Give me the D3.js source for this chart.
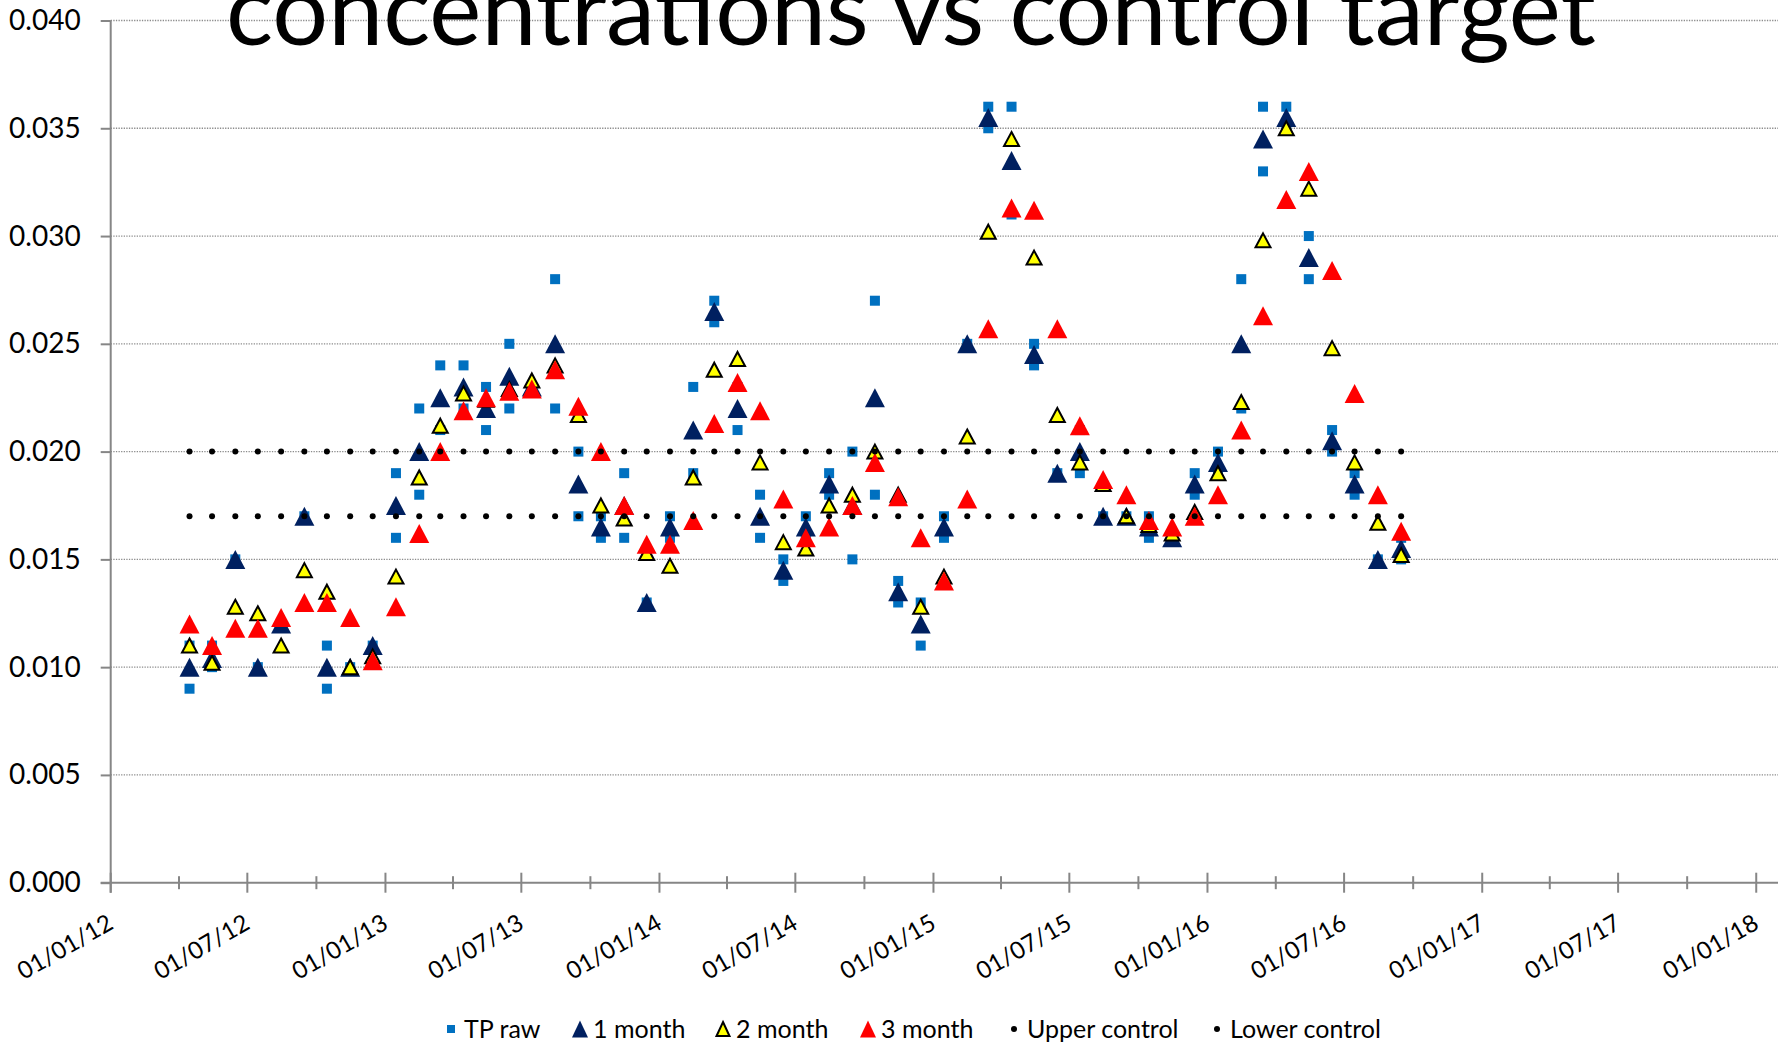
<!DOCTYPE html>
<html>
<head>
<meta charset="utf-8">
<script src="https://cdn.jsdelivr.net/npm/d3@7"></script>
<style>
  body { margin: 0; background: #fff; }
  svg text { font-family: Lato, "Noto Sans", sans-serif; fill: #000; }
</style>
</head>
<body>
<svg id="chart" width="1790" height="1044"></svg>
<script>
// sample dates (one per month)
const dates = [
  "2012-04-15","2012-05-15","2012-06-15","2012-07-15","2012-08-15","2012-09-15","2012-10-15","2012-11-15","2012-12-15",
  "2013-01-15","2013-02-15","2013-03-15","2013-04-15","2013-05-15","2013-06-15","2013-07-15","2013-08-15","2013-09-15","2013-10-15","2013-11-15","2013-12-15",
  "2014-01-15","2014-02-15","2014-03-15","2014-04-15","2014-05-15","2014-06-15","2014-07-15","2014-08-15","2014-09-15","2014-10-15","2014-11-15","2014-12-15",
  "2015-01-15","2015-02-15","2015-03-15","2015-04-15","2015-05-15","2015-06-15","2015-07-15","2015-08-15","2015-09-15","2015-10-15","2015-11-15","2015-12-15",
  "2016-01-15","2016-02-15","2016-03-15","2016-04-15","2016-05-15","2016-06-15","2016-07-15","2016-08-15","2016-09-15"
];

// raw TP samples for each month (some months have two)
const tpRaw = [
  [0.009, 0.011], [0.011, 0.010], [0.015], [0.010], [0.012], [0.017], [0.011, 0.009], [0.010], [0.011],
  [0.019, 0.016], [0.022, 0.018], [0.024, 0.021], [0.024, 0.022], [0.023, 0.021], [0.025, 0.022], [0.023], [0.028, 0.022], [0.020, 0.017], [0.017, 0.016], [0.019, 0.016], [0.013],
  [0.017, 0.016], [0.023, 0.019], [0.027, 0.026], [0.023, 0.021], [0.018, 0.016], [0.015, 0.014], [0.017, 0.016], [0.019, 0.018], [0.020, 0.015], [0.027, 0.018], [0.014, 0.013], [0.013, 0.011],
  [0.017, 0.016], [0.025], [0.036, 0.035], [0.036, 0.031], [0.025, 0.024], [0.019], [0.021, 0.019], [0.017], [0.017], [0.017, 0.016], [0.016], [0.019, 0.018],
  [0.020, 0.019], [0.028, 0.022], [0.036, 0.033], [0.036, 0.035], [0.030, 0.028], [0.021, 0.020], [0.019, 0.018], [0.015], [0.016, 0.015]
];

const oneMonth = [
  0.0100, 0.0104, 0.0150, 0.0100, 0.0120, 0.0170, 0.0100, 0.0100, 0.0110,
  0.0175, 0.0200, 0.0225, 0.0230, 0.0220, 0.0235, 0.0230, 0.0250, 0.0185, 0.0165, 0.0175, 0.0130,
  0.0165, 0.0210, 0.0265, 0.0220, 0.0170, 0.0145, 0.0165, 0.0185, 0.0175, 0.0225, 0.0135, 0.0120,
  0.0165, 0.0250, 0.0355, 0.0335, 0.0245, 0.0190, 0.0200, 0.0170, 0.0170, 0.0165, 0.0160, 0.0185,
  0.0195, 0.0250, 0.0345, 0.0355, 0.0290, 0.0205, 0.0185, 0.0150, 0.0155
];

const twoMonth = [
  0.0110, 0.0102, 0.0128, 0.0125, 0.0110, 0.0145, 0.0135, 0.0100, 0.0105,
  0.0142, 0.0188, 0.0212, 0.0227, 0.0224, 0.0229, 0.0233, 0.0240, 0.0217, 0.0175, 0.0169, 0.0153,
  0.0147, 0.0188, 0.0238, 0.0243, 0.0195, 0.0158, 0.0155, 0.0175, 0.0180, 0.0200, 0.0180, 0.0128,
  0.0142, 0.0207, 0.0302, 0.0345, 0.0290, 0.0217, 0.0195, 0.0185, 0.0170, 0.0166, 0.0162, 0.0172,
  0.0190, 0.0223, 0.0298, 0.0350, 0.0322, 0.0248, 0.0195, 0.0167, 0.0152
];

const threeMonth = [
  0.0120, 0.0110, 0.0118, 0.0118, 0.0123, 0.0130, 0.0130, 0.0123, 0.0103,
  0.0128, 0.0162, 0.0200, 0.0219, 0.0225, 0.0228, 0.0229, 0.0238, 0.0221, 0.0200, 0.0175, 0.0157,
  0.0157, 0.0168, 0.0213, 0.0232, 0.0219, 0.0178, 0.0160, 0.0165, 0.0175, 0.0195, 0.0179, 0.0160,
  0.0140, 0.0178, 0.0257, 0.0313, 0.0312, 0.0257, 0.0212, 0.0187, 0.0180, 0.0168, 0.0165, 0.0170,
  0.0180, 0.0210, 0.0263, 0.0317, 0.0330, 0.0284, 0.0227, 0.0180, 0.0163
];

const upperControl = [
  0.020, 0.020, 0.020, 0.020, 0.020, 0.020, 0.020, 0.020, 0.020,
  0.020, 0.020, 0.020, 0.020, 0.020, 0.020, 0.020, 0.020, 0.020, 0.020, 0.020, 0.020,
  0.020, 0.020, 0.020, 0.020, 0.020, 0.020, 0.020, 0.020, 0.020, 0.020, 0.020, 0.020,
  0.020, 0.020, 0.020, 0.020, 0.020, 0.020, 0.020, 0.020, 0.020, 0.020, 0.020, 0.020,
  0.020, 0.020, 0.020, 0.020, 0.020, 0.020, 0.020, 0.020, 0.020
];

const lowerControl = [
  0.017, 0.017, 0.017, 0.017, 0.017, 0.017, 0.017, 0.017, 0.017,
  0.017, 0.017, 0.017, 0.017, 0.017, 0.017, 0.017, 0.017, 0.017, 0.017, 0.017, 0.017,
  0.017, 0.017, 0.017, 0.017, 0.017, 0.017, 0.017, 0.017, 0.017, 0.017, 0.017, 0.017,
  0.017, 0.017, 0.017, 0.017, 0.017, 0.017, 0.017, 0.017, 0.017, 0.017, 0.017, 0.017,
  0.017, 0.017, 0.017, 0.017, 0.017, 0.017, 0.017, 0.017, 0.017
];

const yTicks = [0, 0.005, 0.010, 0.015, 0.020, 0.025, 0.030, 0.035, 0.040];
const legendLabels = ["TP raw", "1 month", "2 month", "3 month", "Upper control", "Lower control"];

const parseDate = d3.timeParse("%Y-%m-%d");
const svg = d3.select("#chart");

// plot area
const plotLeft = 110.7, plotRight = 1778, plotTop = 20.5, plotBottom = 882.7;

const x = d3.scaleTime()
  .domain([new Date(2012, 0, 1), new Date(2018, 0, 30)])
  .range([plotLeft, plotRight]);

const y = d3.scaleLinear()
  .domain([0, 0.04])
  .range([plotBottom, plotTop]);

// gridlines
svg.append("g")
  .selectAll("line")
  .data(yTicks.slice(1))
  .enter()
  .append("line")
  .attr("x1", plotLeft).attr("x2", plotRight)
  .attr("y1", d => y(d)).attr("y2", d => y(d))
  .attr("stroke", "#8c8c8c")
  .attr("stroke-width", 1.3)
  .attr("stroke-dasharray", "1.3,1.3");

// y axis
const yAxis = d3.axisLeft(y)
  .tickValues(yTicks)
  .tickFormat(d3.format(".3f"))
  .tickSize(10)
  .tickPadding(20);

const gy = svg.append("g")
  .attr("transform", `translate(${plotLeft},0)`)
  .call(yAxis);
gy.select(".domain").attr("stroke", "#868686").attr("stroke-width", 2)
  .attr("d", `M0,${plotTop}V${plotBottom + 10}`);
gy.selectAll(".tick line").attr("stroke", "#868686").attr("stroke-width", 2);
gy.selectAll(".tick text").style("font-size", "28px");
gy.attr("font-family", null).attr("font-size", null);

// x axis: major ticks every 6 months, minor every 3
const majorTicks = d3.timeMonth.every(6).range(new Date(2012, 0, 1), new Date(2018, 0, 2));
const minorTicks = d3.timeMonth.every(3).range(new Date(2012, 0, 1), new Date(2018, 0, 2))
  .filter(d => d.getMonth() % 6 !== 0);

const gx = svg.append("g");
gx.append("line")
  .attr("x1", plotLeft - 10).attr("x2", plotRight)
  .attr("y1", plotBottom).attr("y2", plotBottom)
  .attr("stroke", "#868686").attr("stroke-width", 2);
gx.selectAll("line.major")
  .data(majorTicks)
  .enter()
  .append("line")
  .attr("class", "major")
  .attr("x1", d => x(d)).attr("x2", d => x(d))
  .attr("y1", plotBottom - 10).attr("y2", plotBottom + 10)
  .attr("stroke", "#868686").attr("stroke-width", 2);
gx.selectAll("line.minor")
  .data(minorTicks)
  .enter()
  .append("line")
  .attr("class", "minor")
  .attr("x1", d => x(d)).attr("x2", d => x(d))
  .attr("y1", plotBottom - 6.5).attr("y2", plotBottom + 6.5)
  .attr("stroke", "#868686").attr("stroke-width", 2);

const fmt = d3.timeFormat("%d/%m/%y");
gx.selectAll("text")
  .data(majorTicks)
  .enter()
  .append("text")
  .attr("transform", d => `translate(${x(d) + 4},${plotBottom + 45}) rotate(-30)`)
  .attr("text-anchor", "end")
  .style("font-size", "24px")
  .text(d => fmt(d));

// marker shapes
function triPath(w, h) {
  return `M0,${-h / 2}L${w / 2},${h / 2}L${-w / 2},${h / 2}Z`;
}

// TP raw squares
const rawPoints = [];
tpRaw.forEach((vals, i) => vals.forEach(v => rawPoints.push({ date: parseDate(dates[i]), value: v })));

svg.append("g")
  .selectAll("rect")
  .data(rawPoints)
  .enter()
  .append("rect")
  .attr("x", d => x(d.date) - 5)
  .attr("y", d => y(d.value) - 5)
  .attr("width", 10)
  .attr("height", 10)
  .attr("fill", "#0070c0");

function drawTriangles(values, w, h, fill, stroke, sw) {
  svg.append("g")
    .selectAll("path")
    .data(values)
    .enter()
    .append("path")
    .attr("d", triPath(w, h))
    .attr("transform", (d, i) => `translate(${x(parseDate(dates[i]))},${y(d)})`)
    .attr("fill", fill)
    .attr("stroke", stroke)
    .attr("stroke-width", sw)
    .attr("stroke-linejoin", "miter");
}

drawTriangles(oneMonth, 20, 19, "#002060", "none", 0);
drawTriangles(twoMonth, 15, 14, "#ffff00", "#000", 2);
drawTriangles(threeMonth, 20, 19, "#ff0000", "none", 0);

function drawDots(values) {
  svg.append("g")
    .selectAll("circle")
    .data(values)
    .enter()
    .append("circle")
    .attr("cx", (d, i) => x(parseDate(dates[i])))
    .attr("cy", d => y(d))
    .attr("r", 3)
    .attr("fill", "#000");
}
drawDots(upperControl);
drawDots(lowerControl);

// title (upper part is cut off by the chart edge)
const title = svg.append("text")
  .attr("x", 911)
  .attr("y", 45)
  .attr("text-anchor", "middle")
  .style("font-size", "100px")
  .text("concentrations vs control target");
const tw = title.node().getComputedTextLength();
title.style("font-size", (100 * 1370 / tw) + "px");

// legend
const legendX = [451, 580, 723, 868, 1014, 1217];
const legendY = 1029;
const lg = svg.append("g");
legendLabels.forEach((label, i) => {
  const cx = legendX[i];
  if (i === 0) {
    lg.append("rect").attr("x", cx - 4).attr("y", legendY - 4).attr("width", 8).attr("height", 8).attr("fill", "#0070c0");
  } else if (i === 1) {
    lg.append("path").attr("d", triPath(16, 17)).attr("transform", `translate(${cx},${legendY})`).attr("fill", "#002060");
  } else if (i === 2) {
    lg.append("path").attr("d", triPath(13, 14)).attr("transform", `translate(${cx},${legendY})`)
      .attr("fill", "#ffff00").attr("stroke", "#000").attr("stroke-width", 2);
  } else if (i === 3) {
    lg.append("path").attr("d", triPath(16, 17)).attr("transform", `translate(${cx},${legendY})`).attr("fill", "#ff0000");
  } else {
    lg.append("circle").attr("cx", cx).attr("cy", legendY).attr("r", 3).attr("fill", "#000");
  }
  lg.append("text")
    .attr("x", cx + 13)
    .attr("y", legendY + 9)
    .style("font-size", "25px")
    .text(label);
});
</script>
</body>
</html>
